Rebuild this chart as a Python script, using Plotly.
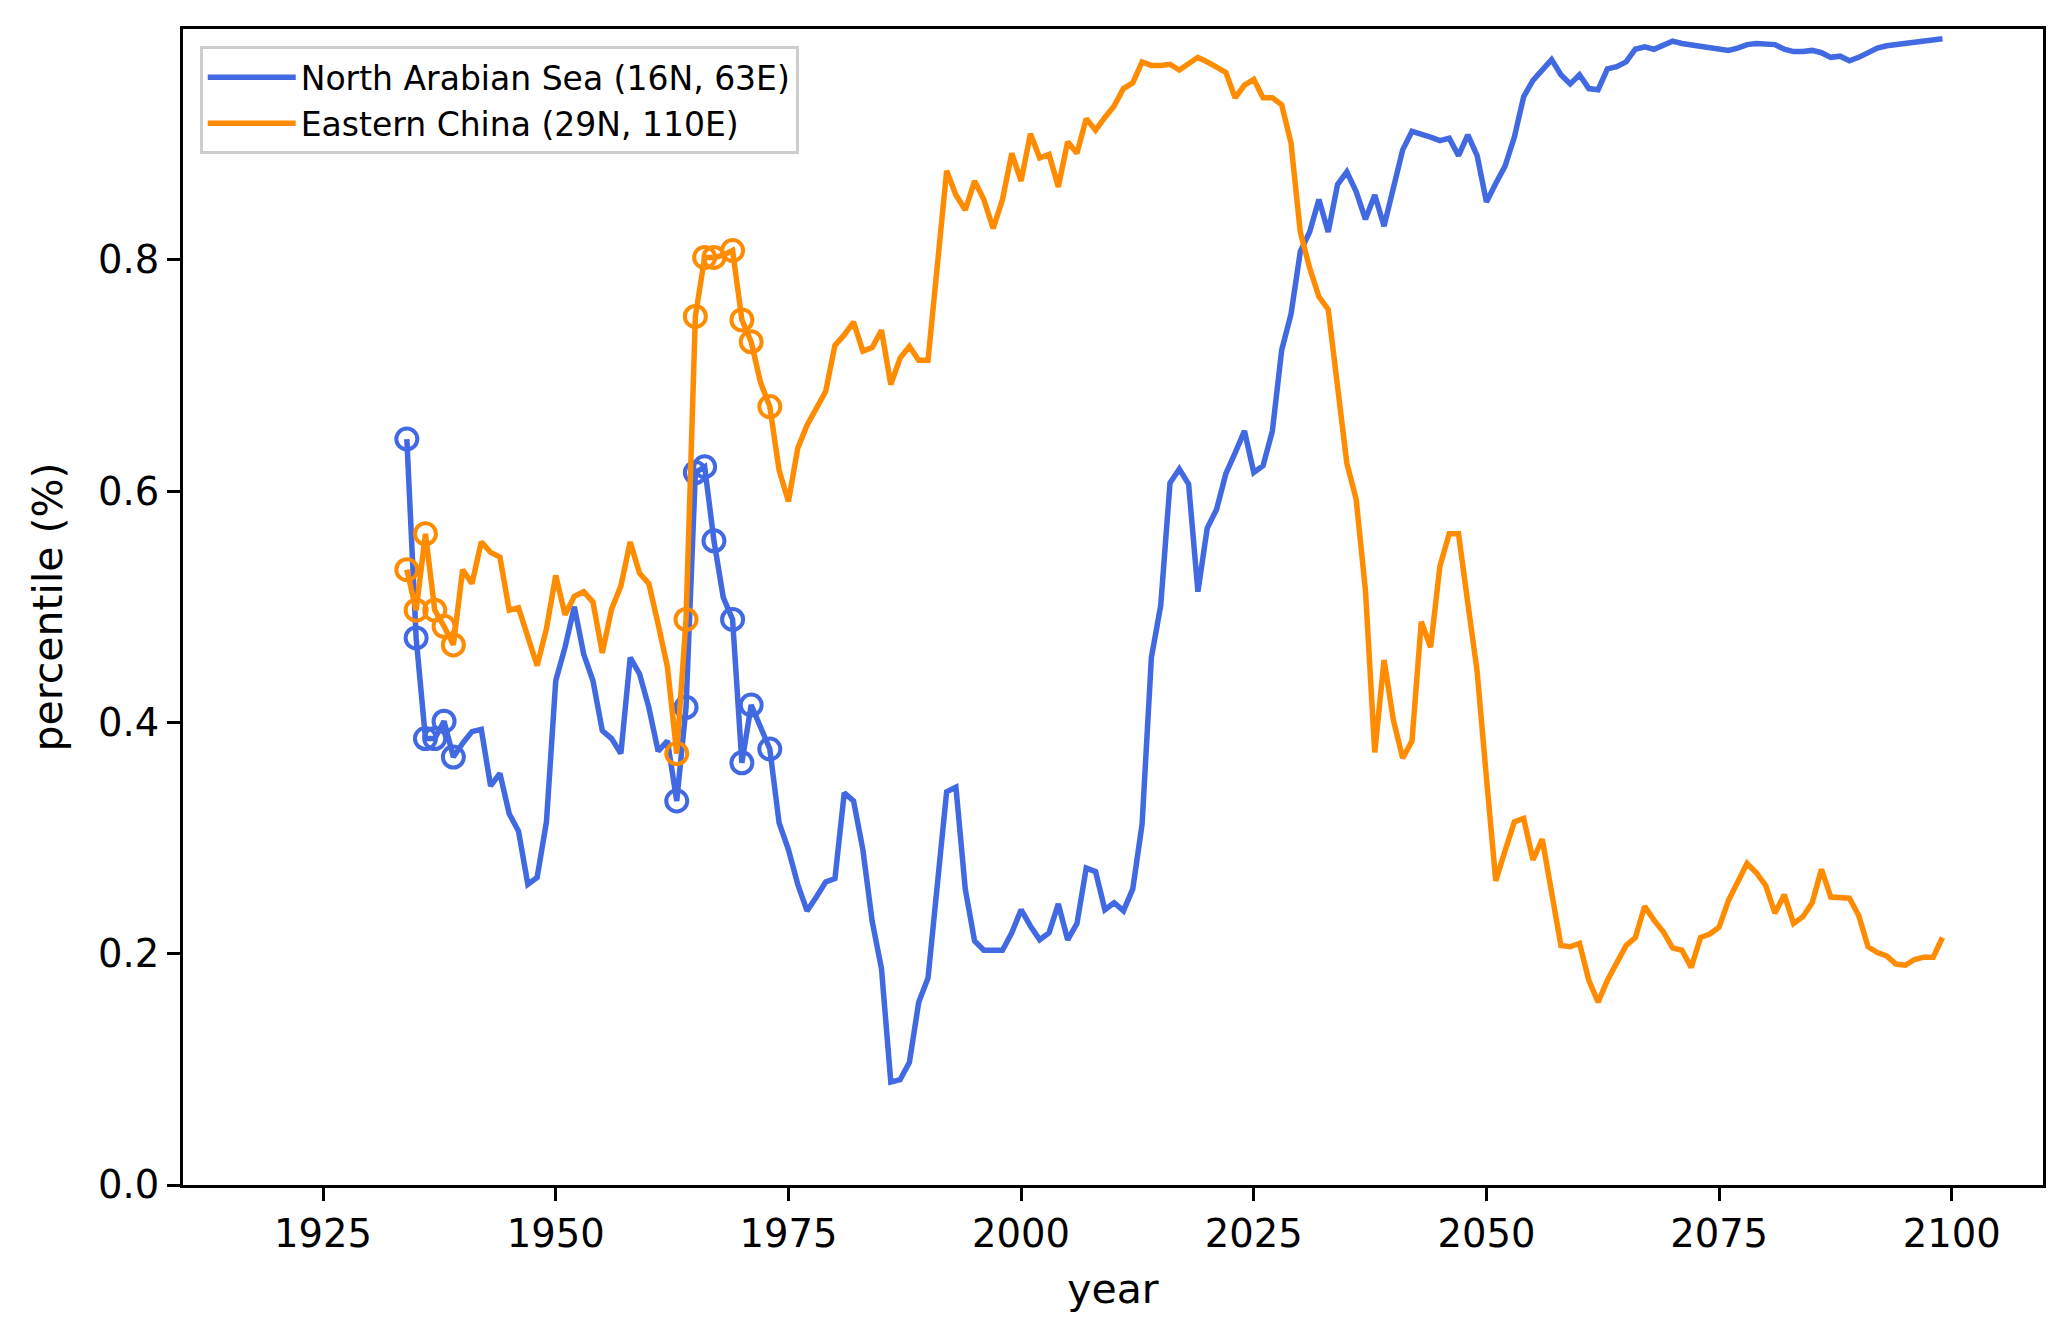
import plotly.graph_objects as go

years = list(range(1934, 2100))

arabian_sea = [
    0.645, 0.473, 0.386, 0.386, 0.401, 0.370, 0.382, 0.392, 0.394, 0.345,
    0.356, 0.321, 0.306, 0.260, 0.266, 0.314, 0.436, 0.465, 0.500, 0.459,
    0.436, 0.393, 0.386, 0.373, 0.456, 0.442, 0.413, 0.375, 0.384, 0.332,
    0.413, 0.616, 0.621, 0.557, 0.508, 0.489, 0.365, 0.415, 0.396, 0.377,
    0.313, 0.290, 0.260, 0.237, 0.249, 0.262, 0.265, 0.339, 0.332, 0.290,
    0.228, 0.187, 0.089, 0.091, 0.106, 0.158, 0.179, 0.256, 0.340, 0.344,
    0.256, 0.211, 0.203, 0.203, 0.203, 0.218, 0.238, 0.224, 0.212, 0.218,
    0.243, 0.212, 0.226, 0.274, 0.271, 0.238, 0.244, 0.237, 0.256, 0.312,
    0.456, 0.501, 0.607, 0.619, 0.606, 0.513, 0.568, 0.584, 0.615, 0.633,
    0.652, 0.616, 0.622, 0.652, 0.722, 0.753, 0.807, 0.824, 0.852, 0.824,
    0.865, 0.876, 0.859, 0.835, 0.856, 0.829, 0.862, 0.895, 0.911, 0.909,
    0.906, 0.903, 0.905, 0.890, 0.908, 0.890, 0.850, 0.866, 0.881, 0.906,
    0.941, 0.955, 0.964, 0.973, 0.960, 0.952, 0.960, 0.948, 0.947, 0.965,
    0.967, 0.971, 0.982, 0.984, 0.982, 0.986, 0.989, 0.987, 0.986, 0.984,
    0.983, 0.982, 0.981, 0.983, 0.986, 0.987, 0.987, 0.986, 0.982, 0.980,
    0.980, 0.981, 0.979, 0.975, 0.976, 0.972, 0.975, 0.979, 0.983, 0.985,
    0.986, 0.987, 0.988, 0.989, 0.990, 0.991,
]

eastern_china = [
    0.532, 0.497, 0.563, 0.497, 0.483, 0.467, 0.532, 0.520, 0.556, 0.547,
    0.543, 0.497, 0.499, 0.475, 0.449, 0.481, 0.527, 0.493, 0.509, 0.513,
    0.504, 0.460, 0.498, 0.518, 0.556, 0.529, 0.520, 0.485, 0.448, 0.373,
    0.489, 0.751, 0.802, 0.802, 0.804, 0.808, 0.748, 0.729, 0.694, 0.673,
    0.618, 0.591, 0.637, 0.657, 0.672, 0.686, 0.726, 0.735, 0.746, 0.721,
    0.724, 0.739, 0.692, 0.715, 0.725, 0.713, 0.713, 0.795, 0.877, 0.856,
    0.843, 0.868, 0.852, 0.827, 0.852, 0.892, 0.868, 0.909, 0.888, 0.891,
    0.863, 0.902, 0.892, 0.922, 0.912, 0.923, 0.933, 0.948, 0.953, 0.971,
    0.968, 0.968, 0.969, 0.964, 0.970, 0.975, 0.971, 0.967, 0.962, 0.940,
    0.951, 0.956, 0.940, 0.940, 0.934, 0.901, 0.824, 0.793, 0.768, 0.757,
    0.689, 0.624, 0.593, 0.514, 0.374, 0.454, 0.402, 0.369, 0.384, 0.487,
    0.465, 0.535, 0.563, 0.563, 0.503, 0.444, 0.352, 0.263, 0.289, 0.314,
    0.317, 0.281, 0.299, 0.252, 0.207, 0.206, 0.209, 0.177, 0.158, 0.177,
    0.191, 0.207, 0.214, 0.241, 0.229, 0.219, 0.205, 0.203, 0.188, 0.214,
    0.217, 0.223, 0.246, 0.262, 0.278, 0.270, 0.259, 0.235, 0.251, 0.226,
    0.232, 0.244, 0.273, 0.249, 0.249, 0.248, 0.233, 0.206, 0.201, 0.198,
    0.191, 0.190, 0.195, 0.197, 0.197, 0.214,
]

# years flagged with open circles
flag_years = [1934, 1935, 1936, 1937, 1938, 1939, 1963, 1964, 1965,
              1966, 1967, 1969, 1970, 1971, 1973]

names = ["North Arabian Sea (16N, 63E)", "Eastern China (29N, 110E)"]
colors = ["royalblue", "darkorange"]

fig = go.Figure()

for name, vals, col in zip(names, [arabian_sea, eastern_china], colors):
    fig.add_trace(go.Scatter(x=years, y=vals, mode="lines", name=name,
                             line=dict(color=col, width=5.5)))
    fx = [y for y in years if y in flag_years]
    fy = [v for y, v in zip(years, vals) if y in flag_years]
    fig.add_trace(go.Scatter(x=fx, y=fy, mode="markers", showlegend=False,
                             marker=dict(symbol="circle-open", size=21,
                                         color=col, line=dict(width=4, color=col))))

axis_style = dict(showline=True, linecolor="black", linewidth=3, mirror=True,
                  ticks="outside", ticklen=13, tickwidth=3, tickcolor="black",
                  showgrid=False, zeroline=False,
                  tickfont=dict(size=38.5, color="black"))

fig.update_xaxes(range=[1909.95, 2109.8], tickvals=[1925, 1950, 1975, 2000, 2025, 2050, 2075, 2100],
                 title=dict(text="year", font=dict(size=41, color="black"), standoff=20),
                 **axis_style)
fig.update_yaxes(range=[0, 0.9995], tickvals=[0, 0.2, 0.4, 0.6, 0.8], tickformat=".1f",
                 title=dict(text="percentile (%)", font=dict(size=41, color="black"), standoff=23),
                 **axis_style)

fig.update_layout(
    width=2072, height=1340,
    margin=dict(l=175, r=37, t=21, b=163),
    plot_bgcolor="white", paper_bgcolor="white",
    font=dict(family="DejaVu Sans", color="black"),
    legend=dict(x=0.009, y=0.985, xanchor="left", yanchor="top",
                bgcolor="rgba(255,255,255,0.8)", bordercolor="#cccccc", borderwidth=3,
                font=dict(size=33, color="black"), itemwidth=88,
                tracegroupgap=0),
)

fig.write_html("out.html")
